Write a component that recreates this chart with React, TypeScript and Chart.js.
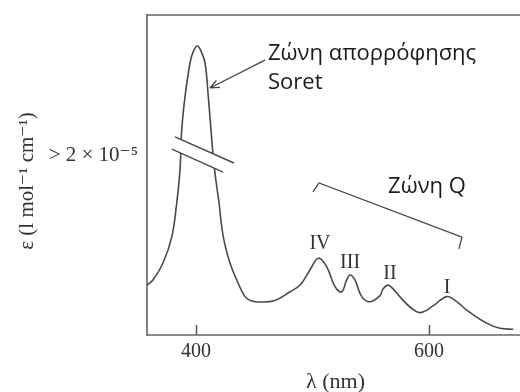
import React, { useEffect, useRef } from "react";
import { Chart, registerables } from "chart.js";

Chart.register(...registerables);

// Spectrum (wavelength in nm, absorbance in arbitrary units, Soret peak shown with an axis break)
const wavelengths = [
  358.0, 363.1, 371.7, 379.2, 383.5, 386.3, 387.8, 390.6, 394.9, 397.5, 401.2, 404.3,
  407.8, 410.6, 412.9, 415.5, 419.8, 423.5, 429.2, 435.0, 442.1, 448.1, 454.9, 467.8,
  480.7, 489.3, 497.8, 505.0, 512.2, 519.3, 525.0, 529.3, 532.2, 536.4, 542.2, 549.3,
  557.9, 560.5, 564.8, 569.1, 575.1, 583.6, 592.2, 603.4, 615.1, 623.1, 632.3, 649.4,
  660.8, 672.2,
];
const epsilon = [
  15.6, 17.2, 22.5, 30.6, 41.25, 51.6, 64.1, 74.4, 85.0, 88.4, 90.3, 88.75,
  85.0, 74.4, 64.1, 53.1, 41.25, 30.6, 22.5, 17.2, 12.0, 10.6, 10.3, 10.8,
  13.5, 15.6, 20.3, 24.0, 21.3, 15.1, 13.5, 17.2, 18.75, 17.2, 12.0, 10.4,
  12.3, 14.4, 15.6, 14.4, 11.9, 8.75, 7.0, 9.1, 12.0, 10.6, 7.8, 3.7,
  2.1, 1.8,
];
const xTickValues = [400, 600];
const xTickLabels = ["400", "600"];
const bandLabels = ["IV", "III", "II", "I"];
const bandLabelX = [506.4, 532.2, 566.5, 615.4];
const bandLabelY = [28.4, 22.5, 19.1, 14.7];

const X_MIN = 358;
const X_MAX = 678;

const SERIF = '"Liberation Serif", "DejaVu Serif", serif';
const SANS = '"Open Sans", "Noto Sans", sans-serif';

const decor = {
  id: "decor",
  afterDatasetsDraw(chart: any) {
    const { ctx, chartArea: a, scales } = chart;
    const px = (v: number) => scales.x.getPixelForValue(v);
    const py = (v: number) => scales.y.getPixelForValue(v);
    ctx.save();

    // axis break on the Soret peak
    const l1 = [382.0, 61.9, 432.6, 53.75];
    const l2 = [379.4, 58.1, 423.2, 50.9];
    ctx.fillStyle = "#ffffff";
    ctx.beginPath();
    ctx.moveTo(px(l1[0]), py(l1[1]));
    ctx.lineTo(px(l1[2]), py(l1[3]));
    ctx.lineTo(px(l2[2]), py(l2[3]));
    ctx.lineTo(px(l2[0]), py(l2[1]));
    ctx.closePath();
    ctx.fill();
    ctx.strokeStyle = "#4a4a4a";
    ctx.lineWidth = 1.5;
    for (const l of [l1, l2]) {
      ctx.beginPath();
      ctx.moveTo(px(l[0]), py(l[1]));
      ctx.lineTo(px(l[2]), py(l[3]));
      ctx.stroke();
    }

    // frame
    ctx.strokeStyle = "#8c8c8c";
    ctx.lineWidth = 2;
    ctx.beginPath();
    ctx.moveTo(a.left, a.top);
    ctx.lineTo(a.right, a.top);
    ctx.moveTo(a.left, a.bottom);
    ctx.lineTo(a.right, a.bottom);
    ctx.stroke();
    ctx.strokeStyle = "#555555";
    ctx.lineWidth = 1.5;
    ctx.beginPath();
    ctx.moveTo(a.left, a.top - 1);
    ctx.lineTo(a.left, a.bottom + 1);
    ctx.stroke();

    // x ticks (inside)
    ctx.strokeStyle = "#555555";
    ctx.lineWidth = 1.5;
    ctx.fillStyle = "#333333";
    ctx.font = `20px ${SERIF}`;
    ctx.textAlign = "center";
    ctx.textBaseline = "middle";
    xTickValues.forEach((v, i) => {
      const x = Math.round(px(v)) + 0.5;
      ctx.beginPath();
      ctx.moveTo(x, a.bottom);
      ctx.lineTo(x, a.bottom - 10);
      ctx.stroke();
      ctx.fillText(xTickLabels[i], px(v), a.bottom + 17);
    });

    // axis titles
    ctx.font = `22px ${SERIF}`;
    ctx.fillText("λ (nm)", (a.left + a.right) / 2 + 2, a.bottom + 47);
    ctx.save();
    ctx.translate(a.left - 120, 181);
    ctx.rotate(-Math.PI / 2);
    ctx.font = `21px ${SERIF}`;
    ctx.fillText("ε (l mol⁻¹ cm⁻¹)", 0, 0);
    ctx.restore();

    ctx.textAlign = "right";
    ctx.font = `21px ${SERIF}`;
    ctx.fillText("> 2 × 10⁻⁵", a.left - 9, py(56.25));

    // band labels
    ctx.textAlign = "center";
    ctx.font = `20px ${SERIF}`;
    bandLabels.forEach((t, i) => ctx.fillText(t, px(bandLabelX[i]), py(bandLabelY[i])));

    // Soret annotation
    ctx.fillStyle = "#1a1a1a";
    ctx.textAlign = "left";
    ctx.font = `22px ${SANS}`;
    ctx.fillText("Ζώνη απορρόφησης", px(461.8), py(87.8));
    ctx.fillText("Soret", px(461.8), py(78.75));
    ctx.fillText("Ζώνη Q", px(564.8), py(46.25));

    // arrow
    const ax0 = px(459.2), ay0 = py(85.9), ax1 = px(412.0), ay1 = py(77.2);
    ctx.strokeStyle = "#444444";
    ctx.lineWidth = 1.3;
    ctx.beginPath();
    ctx.moveTo(ax0, ay0);
    ctx.lineTo(ax1, ay1);
    const ang = Math.atan2(ay1 - ay0, ax1 - ax0);
    const hl = 10;
    ctx.moveTo(ax1, ay1);
    ctx.lineTo(ax1 - hl * Math.cos(ang - 0.4), ay1 - hl * Math.sin(ang - 0.4));
    ctx.moveTo(ax1, ay1);
    ctx.lineTo(ax1 - hl * Math.cos(ang + 0.4), ay1 - hl * Math.sin(ang + 0.4));
    ctx.stroke();

    // Q-band bracket
    ctx.beginPath();
    ctx.moveTo(px(500.4), py(44.7));
    ctx.lineTo(px(505.6), py(47.5));
    ctx.lineTo(px(628.2), py(30.6));
    ctx.lineTo(px(625.6), py(26.9));
    ctx.stroke();

    ctx.restore();
  },
};

export default function App() {
  const ref = useRef<HTMLCanvasElement>(null);
  useEffect(() => {
    if (!ref.current) return;
    const chart = new Chart(ref.current, {
      type: "line",
      data: {
        datasets: [
          {
            data: wavelengths.map((x, i) => ({ x, y: epsilon[i] })),
            borderColor: "#4a4a4a",
            borderWidth: 1.6,
            pointRadius: 0,
            tension: 0.4,
            fill: false,
          },
        ],
      },
      options: {
        animation: false,
        responsive: false,
        maintainAspectRatio: false,
        layout: { padding: { left: 147, right: 0, top: 15, bottom: 57 } },
        plugins: { legend: { display: false }, tooltip: { enabled: false } },
        scales: {
          x: { type: "linear", min: X_MIN, max: X_MAX, display: false },
          y: { type: "linear", min: 0, max: 100, display: false },
        },
      },
      plugins: [decor],
    });
    return () => chart.destroy();
  }, []);
  return (
    <div style={{ position: "fixed", left: 0, top: 0, width: 520, height: 392, background: "#fff" }}>
      <canvas ref={ref} width={520} height={392} style={{ width: 520, height: 392 }} />
    </div>
  );
}
